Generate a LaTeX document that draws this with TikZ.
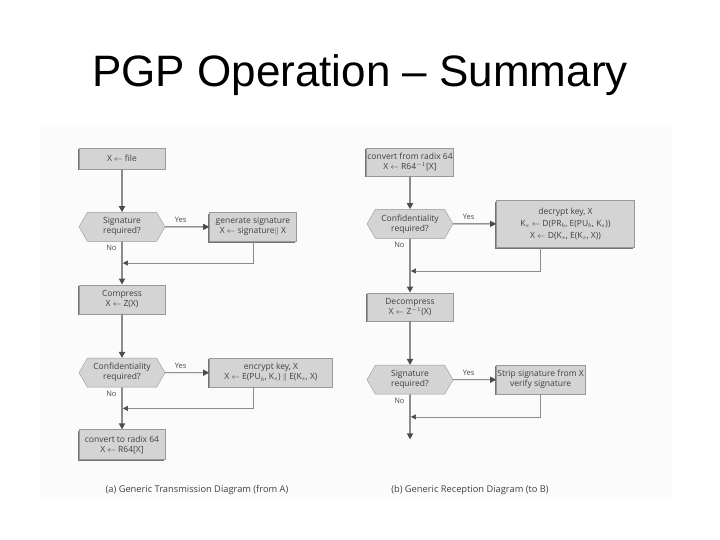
\documentclass[tikz,border=0pt]{standalone}
\usepackage{fontspec}
\setmainfont{Open Sans}
\newfontfamily\titlefont{Liberation Sans}
\usetikzlibrary{arrows.meta,positioning,calc,shapes.symbols,shadows}

\begin{document}
\begin{tikzpicture}[x=1pt,y=1pt,
  box/.style={draw=black!40,fill=black!17,minimum width=86pt,minimum height=29pt,inner sep=1pt,align=center,
    font=\fontsize{8.5}{10}\selectfont,text=black!75,
    drop shadow={shadow xshift=-1.2pt,shadow yshift=-1.2pt,fill=black!55,opacity=1}},
  ask/.style={signal,signal to=west and east,signal pointer angle=120,draw=black!40,fill=black!17,
    minimum width=86pt,minimum height=29pt,inner sep=1pt,align=center,
    font=\fontsize{8.5}{10}\selectfont,text=black!75},
  arr/.style={-{Triangle[length=6pt,width=6pt,color=black!70]},line width=1.8pt,draw=black!45},
  yes/.style={-{Triangle[length=6pt,width=6pt,color=black!70]},line width=0.8pt,draw=black!65},
  ret/.style={-{Triangle[length=5pt,width=5pt,color=black!70]},line width=0.6pt,draw=black!45},
  lbl/.style={font=\fontsize{7.5}{9}\selectfont,text=black!70},
  captext/.style={font=\fontsize{9.3}{11}\selectfont,text=black!75}
]
\useasboundingbox (0,0) rectangle (720,540);
\fill[black!1.5] (40,40) rectangle (672,416);

\node[font=\titlefont\fontsize{44}{50}\selectfont,anchor=base] (title) at (360,453) {PGP Operation – Summary};

% (a) transmission
\node[box,minimum height=21pt] (file) at (122,381.5) {X $\leftarrow$ file};
\node[ask,below=43pt of file] (sigq) {Signature\\required?};
\node[box,right=44pt of sigq,minimum width=87pt] (gensig) {generate signature\\X $\leftarrow$ signature$\|$ X};
\node[box,below=43pt of sigq] (comp) {Compress\\X $\leftarrow$ Z(X)};
\node[ask,below=44pt of comp] (confq) {Confidentiality\\required?};
\node[box,right=44pt of confq,minimum width=123pt] (enc) {encrypt key, X\\X $\leftarrow$ E(PU$_b$, K$_s$) $\|$ E(K$_s$, X)};
\node[box,below=42pt of confq,minimum height=30pt] (radix) {convert to radix 64\\X $\leftarrow$ R64[X]};

\coordinate (j1) at ($(sigq.south)!0.5!(comp.north)$);
\coordinate (j2) at ($(confq.south)!0.5!(radix.north)$);
\draw[arr] (file) -- (sigq);
\draw[arr] (sigq) -- (comp);
\draw[arr] (comp) -- (confq);
\draw[arr] (confq) -- (radix);
\draw[yes] (sigq) -- (gensig);
\draw[yes] (confq) -- (enc);
\draw[ret] (gensig.south) |- ([xshift=0.9pt]j1);
\draw[ret] (enc.south -| gensig.south) |- ([xshift=0.9pt]j2);
\node[lbl,above right=1pt and 6pt of sigq.east] (sigyes) {Yes};
\node[lbl,below left=0pt and 2pt of sigq.south] (signo) {No};
\node[lbl,above right=1pt and 6pt of confq.east] (confyes) {Yes};
\node[lbl,below left=0pt and 2pt of confq.south] (confno) {No};
\node[captext,anchor=base] (capa) at (197,47) {(a) Generic Transmission Diagram (from A)};

% (b) reception
\node[box,minimum height=28pt] (radin) at (410,378) {convert from radix 64\\X $\leftarrow$ R64$^{-1}$[X]};
\node[ask,below=33pt of radin] (confr) {Confidentiality\\required?};
\node[box,right=43pt of confr,minimum width=138pt,minimum height=47pt,font=\fontsize{8.5}{12}\selectfont] (dec)
  {decrypt key, X\\K$_s$ $\leftarrow$ D(PR$_b$, E(PU$_b$, K$_s$))\\X $\leftarrow$ D(K$_s$, E(K$_s$, X))};
\node[box,below=54pt of confr,minimum height=28pt] (decomp) {Decompress\\X $\leftarrow$ Z$^{-1}$(X)};
\node[ask,below=44pt of decomp] (sigr) {Signature\\required?};
\node[box,right=43pt of sigr] (strip) {Strip signature from X\\verify signature};
\coordinate[below=45pt of sigr] (out);

\coordinate (j3) at ($(confr.south)!0.6!(decomp.north)$);
\coordinate (j4) at ($(sigr.south)!0.5!(out)$);
\draw[arr] (radin) -- (confr);
\draw[arr] (confr) -- (decomp);
\draw[arr] (decomp) -- (sigr);
\draw[arr] (sigr) -- (out);
\draw[yes] (confr) -- (dec);
\draw[yes] (sigr) -- (strip);
\draw[ret] (dec.south -| strip.south) |- ([xshift=0.9pt]j3);
\draw[ret] (strip.south) |- ([xshift=0.9pt]j4);
\node[lbl,above right=1pt and 6pt of confr.east] (confryes) {Yes};
\node[lbl,below left=0pt and 2pt of confr.south] (confrno) {No};
\node[lbl,above right=1pt and 6pt of sigr.east] (sigryes) {Yes};
\node[lbl,below left=0pt and 2pt of sigr.south] (sigrno) {No};
\node[captext,anchor=base] (capb) at (470,47) {(b) Generic Reception Diagram (to B)};
\end{tikzpicture}
\end{document}
